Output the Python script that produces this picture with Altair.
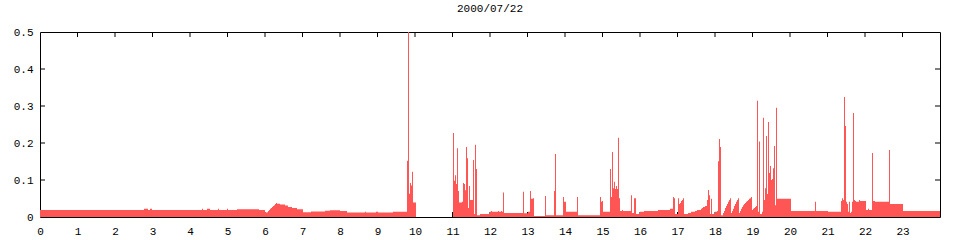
import altair as alt
import pandas as pd

TITLE = "2000/07/22"

# step start times (minutes after 00:00) and the value that holds from each
start_min = [
    0, 166.4, 172.8, 176, 179.2, 259.2, 260.8, 267.2, 272, 284.8, 286.4, 299.2, 300.8,
    315.2, 350.4, 360, 363.2, 364.8, 366.4, 368, 369.6, 371.2, 372.8, 374.4, 376, 377.6,
    379.2, 384, 392, 396.8, 403.2, 411.2, 420.8, 433.6, 456, 464, 480, 491.2, 520, 521.6,
    537.6, 540.8, 564.8, 587.2, 588.8, 590.4, 592, 593.6, 595.2, 596.8, 601.6,
    660.8, 662.4, 664, 665.6, 667.2, 668.8, 670.4, 675.2, 676.8, 678.4, 680, 681.6, 683.2,
    684.8, 686.4, 688, 692.8, 694.4, 696, 697.6, 699.2, 704, 720, 721.6, 723.2, 732.8,
    734.4, 737.6, 739.2, 740.8, 742.4, 772.8, 774.4, 780.8, 784, 785.6, 788.8, 790.4,
    808, 809.6, 822.4, 824, 825.6, 836.8, 838.4, 841.6, 859.2, 860.8, 896, 897.6, 899.2,
    900.8, 912, 913.6, 915.2, 916.8, 918.4, 920, 921.6, 923.2, 924.8, 926.4, 928, 931.2,
    932.8, 945.6, 947.2, 950.4, 953.6, 960, 966.4, 988.8, 1008, 1012.8, 1014.4, 1016,
    1020.8, 1022.4, 1024, 1025.6, 1027.2, 1028.8, 1030.4, 1036.8, 1041.6, 1048, 1051.2,
    1057.6, 1059.2, 1060.8, 1064, 1067.2, 1068.8, 1070.4, 1072, 1073.6, 1075.2, 1080,
    1083.2, 1084.8, 1086.4, 1088, 1089.6, 1092.8, 1094.4, 1096, 1097.6, 1099.2, 1100.8,
    1102.4, 1104, 1105.6, 1107.2, 1108.8, 1110.4, 1112, 1113.6, 1115.2, 1116.8, 1118.4,
    1120, 1121.6, 1123.2, 1124.8, 1126.4, 1128, 1129.6, 1131.2, 1132.8, 1134.4, 1136,
    1137.6, 1139.2, 1140.8, 1142.4, 1144, 1145.6, 1147.2, 1148.8, 1150.4, 1152, 1155.2,
    1156.8, 1158.4, 1160, 1161.6, 1163.2, 1164.8, 1166.4, 1168, 1169.6, 1171.2, 1172.8,
    1174.4, 1176, 1177.6, 1179.2, 1201.6, 1240, 1241.6, 1260.8, 1281.6, 1283.2, 1284.8,
    1286.4, 1288, 1289.6, 1291.2, 1292.8, 1294.4, 1296, 1297.6, 1299.2, 1300.8, 1302.4,
    1304, 1305.6, 1310.4, 1312, 1321.6, 1324.8, 1326.4, 1331.2, 1332.8, 1336, 1358.4,
    1360, 1380.8, 1440,
]

step_val = [
    0.019, 0.022, 0.019, 0.022, 0.019, 0.022, 0.019, 0.022, 0.019, 0.022, 0.019, 0.022, 0.019,
    0.021, 0.019, 0.012, 0.013, 0.016, 0.019, 0.022, 0.024, 0.027, 0.030, 0.032, 0.035, 0.038,
    0.036, 0.034, 0.031, 0.027, 0.024, 0.021, 0.013, 0.015, 0.017, 0.018, 0.016, 0.012, 0.014, 0.012,
    0.014, 0.012, 0.014, 0.152, 0.5, 0.063, 0.092, 0.085, 0.122, 0.039, 0.0,
    0.227, 0.098, 0.113, 0.089, 0.186, 0.070, 0.039, 0.041, 0.092, 0.089, 0.072, 0.189, 0.159,
    0.024, 0.084, 0.046, 0.154, 0.008, 0.195, 0.130, 0.005, 0.008, 0.014, 0.016, 0.014, 0.016,
    0.014, 0.016, 0.014, 0.066, 0.011, 0.068, 0.010, 0.014, 0.070, 0.049, 0.051, 0.003,
    0.057, 0.005, 0.070, 0.170, 0.005, 0.054, 0.041, 0.014, 0.054, 0.005, 0.054, 0.041, 0.043,
    0.014, 0.130, 0.054, 0.176, 0.078, 0.095, 0.076, 0.084, 0.076, 0.214, 0.051, 0.016, 0.019,
    0.016, 0.059, 0.011, 0.051, 0.008, 0.014, 0.016, 0.019, 0.022, 0.054, 0.051, 0.008,
    0.051, 0.035, 0.038, 0.043, 0.046, 0.051, 0.008, 0.011, 0.014, 0.016, 0.019,
    0.022, 0.024, 0.027, 0.030, 0.046, 0.073, 0.059, 0.008, 0.049, 0.008, 0.014,
    0.016, 0.151, 0.211, 0.189, 0.005, 0.011, 0.016, 0.024, 0.030, 0.035, 0.041,
    0.046, 0.051, 0.011, 0.016, 0.022, 0.030, 0.035, 0.041, 0.046, 0.051, 0.011,
    0.016, 0.022, 0.027, 0.032, 0.035, 0.038, 0.041, 0.043, 0.046, 0.049, 0.051,
    0.054, 0.019, 0.022, 0.024, 0.027, 0.030, 0.314, 0.014, 0.204, 0.008, 0.014,
    0.268, 0.046, 0.078, 0.219, 0.062, 0.257, 0.119, 0.138, 0.100, 0.103, 0.132,
    0.192, 0.032, 0.295, 0.049, 0.016, 0.041, 0.016, 0.014, 0.043, 0.051, 0.046,
    0.324, 0.246, 0.041, 0.035, 0.014, 0.041, 0.011, 0.014, 0.041, 0.281, 0.046,
    0.043, 0.041, 0.046, 0.043, 0.019, 0.022, 0.019, 0.173, 0.043, 0.041, 0.181,
    0.035, 0.016, 0.016,
]

x_ticks = list(range(0, 24))
y_ticks = [0, 0.1, 0.2, 0.3, 0.4, 0.5]

FONT = "Liberation Mono"
W, H = 900, 185

df = pd.DataFrame({"hour": [m / 60 for m in start_min], "value": step_val})
xt = pd.DataFrame({"hour": x_ticks[1:]})
yt = pd.DataFrame({"value": y_ticks[1:-1]})

xscale = alt.Scale(domain=[0, 24], nice=False, zero=False)
yscale = alt.Scale(domain=[0, 0.5], nice=False)

xaxis = alt.Axis(values=x_ticks, labelPadding=8)
yaxis = alt.Axis(values=y_ticks, labelPadding=7,
                 labelExpr="datum.value == 0 ? '0' : format(datum.value, '.1f')")

X = alt.X("hour:Q", scale=xscale, title=None, axis=xaxis)
Y = alt.Y("value:Q", scale=yscale, title=None, axis=yaxis)

area = alt.Chart(df).mark_area(
    interpolate="step-after", color="#ff5555", opacity=1, clip=True
).encode(x=X, y=Y)

tick_bottom = alt.Chart(xt).mark_rule(color="black").encode(
    x=X, y=alt.value(H), y2=alt.value(H - 5))
tick_top = alt.Chart(xt).mark_rule(color="black").encode(
    x=X, y=alt.value(0), y2=alt.value(5))
tick_left = alt.Chart(yt).mark_rule(color="black").encode(
    y=Y, x=alt.value(0), x2=alt.value(5))
tick_right = alt.Chart(yt).mark_rule(color="black").encode(
    y=Y, x=alt.value(W - 5), x2=alt.value(W))

chart = alt.layer(tick_bottom, tick_top, tick_left, tick_right, area).properties(
    width=W, height=H,
    title=alt.TitleParams(TITLE, font=FONT, fontSize=11, fontWeight="normal",
                          color="black", anchor="middle", offset=12),
    autosize=alt.AutoSizeParams(type="none"),
    padding={"left": 40, "top": 32, "right": 20, "bottom": 23},
    background="white",
).configure_view(stroke="black", strokeWidth=1).configure_axis(
    ticks=False, domain=False, grid=False, labelFont=FONT, labelFontSize=11,
    labelColor="black", labelOverlap=False, labelFlush=False,
)

chart.save("out.html", embed_options={"renderer": "svg", "actions": False})
